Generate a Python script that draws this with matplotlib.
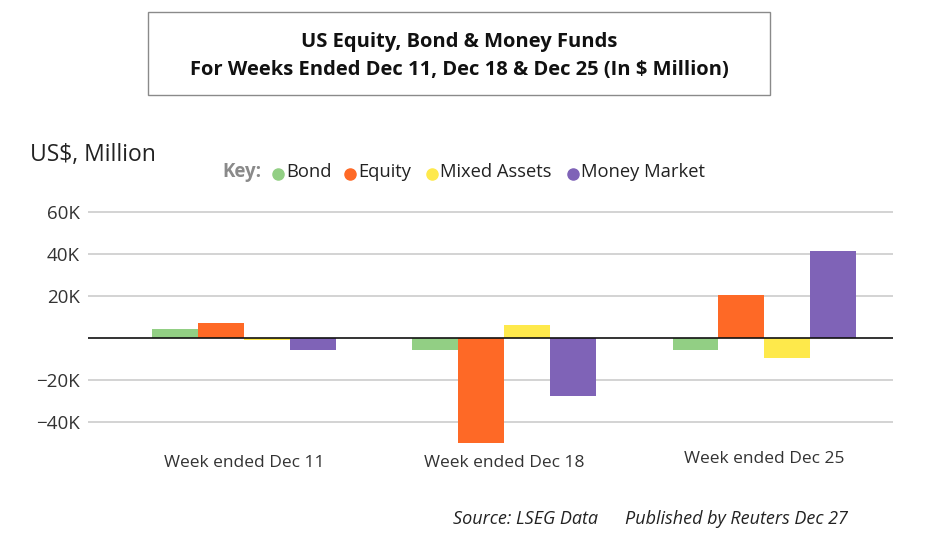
import matplotlib.pyplot as plt
import numpy as np
from matplotlib.patches import Rectangle
from matplotlib.lines import Line2D
from matplotlib.transforms import ScaledTranslation

plt.rcParams['font.family'] = ['Open Sans', 'DejaVu Sans']

weeks = ['Week ended Dec 11', 'Week ended Dec 18', 'Week ended Dec 25']
series = ['Bond', 'Equity', 'Mixed Assets', 'Money Market']
bond = [4.2, -5.9, -5.6]
equity = [7.0, -49.9, 20.5]
mixed = [-0.8, 6.1, -9.6]
money = [-5.6, -27.5, 41.6]
colors = ['#92CF84', '#FE6926', '#FEE94B', '#7F63B7']
yticks = [-40, -20, 20, 40, 60]
ytick_labels = ['\u221240K', '\u221220K', '20K', '40K', '60K']

W, H = 943, 545
fig = plt.figure(figsize=(W / 100, H / 100), dpi=100)

# title box
fig.add_artist(Rectangle((148 / W, 1 - 95 / H), (770 - 148) / W, 83 / H,
                         transform=fig.transFigure, fill=False,
                         edgecolor='#8a8a8a', lw=1))
fig.text(459 / W, 1 - 42 / H, 'US Equity, Bond & Money Funds', ha='center',
         va='center', fontsize=14.5, fontweight='bold', color='#111111')
fig.text(459 / W, 1 - 70 / H,
         'For Weeks Ended Dec 11, Dec 18 & Dec 25 (In $ Million)',
         ha='center', va='center', fontsize=14.5, fontweight='bold', color='#111111')

fig.text(30 / W, 1 - 155 / H, 'US$, Million', ha='left', va='center',
         fontsize=16.5, color='#222222')

# key
fig.text(222 / W, 1 - 172 / H, 'Key:', ha='left', va='center', fontsize=13.5,
         fontweight='bold', color='#8a8a8a')
key_x = [278, 350, 432, 573]
for kx, name, c in zip(key_x, series, colors):
    fig.add_artist(Line2D([kx / W], [1 - 174 / H], marker='o', markersize=8,
                          color=c, transform=fig.transFigure))
    fig.text((kx + 8) / W, 1 - 172 / H, name, ha='left', va='center',
             fontsize=13.2, color='#222222')

ax = fig.add_axes([88 / W, 1 - 447 / H, (893 - 88) / W, (447 - 210) / H])
x = np.arange(len(weeks))
w = 0.176
for i, (vals, c) in enumerate(zip([bond, equity, mixed, money], colors)):
    ax.bar(x + (i - 1.5) * w, vals, w, color=c, zorder=2)

ax.set_xlim(-0.6, 2.496)
ax.set_ylim(-52, 61)
ax.set_yticks(yticks)
ax.set_yticklabels(ytick_labels)
ax.grid(axis='y', color='#d0d0d0', lw=1.3, zorder=0)
ax.axhline(0, color='#111111', lw=1.2, zorder=3)
for s in ax.spines.values():
    s.set_visible(False)
ax.tick_params(axis='y', length=0, pad=6, labelsize=13.5, labelcolor='#333333')
ax.set_xticks(x)
ax.set_xticklabels(weeks)
ax.tick_params(axis='x', length=0, pad=6, labelsize=12.5, labelcolor='#333333')
lbl = ax.get_xticklabels()[2]
lbl.set_transform(lbl.get_transform() + ScaledTranslation(0, 3 / 72, fig.dpi_scale_trans))

fig.text(453 / W, 1 - 519 / H, 'Source: LSEG Data', ha='left', va='center',
         fontsize=13, style='italic', color='#222222')
fig.text(625 / W, 1 - 519 / H, 'Published by Reuters Dec 27', ha='left',
         va='center', fontsize=13, style='italic', color='#222222')

fig.savefig('out.png', dpi=100, facecolor='white')
